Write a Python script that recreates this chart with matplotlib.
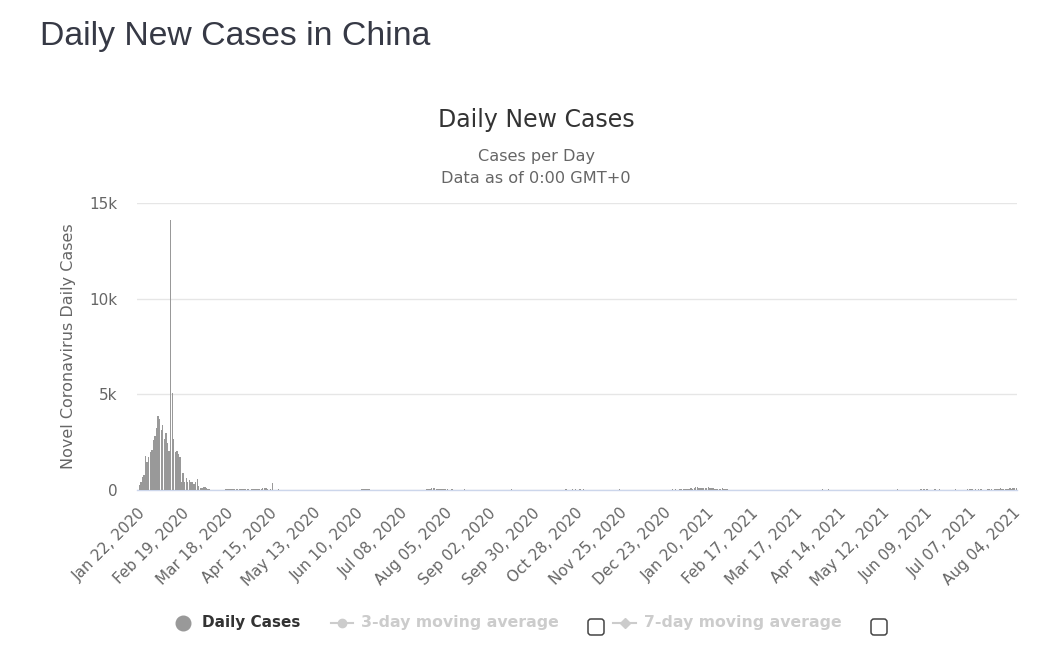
import matplotlib
matplotlib.use("Agg")
import matplotlib.pyplot as plt
import matplotlib.dates as mdates
from matplotlib.lines import Line2D
from matplotlib.patches import FancyBboxPatch
import pandas as pd

# ---------------- data (daily new cases, China) ----------------
start_date = "2020-01-22"
cases_2020_01 = [0, 259, 444, 688, 769, 1771, 1459, 1737, 1982, 2102]
cases_2020_02 = [2590, 2829, 3235, 3887, 3694, 3143, 3385, 2652, 2973, 2467,
                 2015, 14108, 5090, 2641, 2009, 2048, 1886, 1749, 394, 889,
                 397, 648, 409, 508, 406, 433, 327, 427, 573]
cases_2020_03 = [202, 125, 119, 139, 143, 99, 44, 40, 19, 24,
                 15, 8, 11, 20, 16, 21, 13, 34, 39, 41,
                 46, 39, 78, 47, 67, 55, 54, 45, 31, 48, 36]
cases_2020_04 = [35, 31, 19, 30, 39, 32, 62, 63, 42, 46,
                 99, 108, 89, 46, 26, 27, 352, 16, 12, 11,
                 30, 10, 6, 11, 12, 3, 6, 22, 4, 12]
cases_2020_05 = [1, 2, 2, 1, 2, 2, 2, 1, 1, 1,
                 17, 1, 3, 4, 5, 7, 5, 6, 2, 5,
                 4, 0, 3, 11, 7, 7, 1, 2, 1, 0, 3]
cases_2020_06 = [2, 2, 5, 3, 5, 4, 6, 7, 3, 11,
                 8, 11, 57, 49, 40, 44, 28, 32, 26, 25,
                 18, 12, 13, 19, 11, 17, 21, 12, 19, 4]
cases_2020_07 = [3, 3, 5, 8, 7, 5, 8, 11, 7, 7,
                 7, 8, 8, 3, 11, 22, 18, 22, 16, 14,
                 14, 22, 22, 21, 46, 61, 68, 101, 105, 127, 45]
cases_2020_08 = [49, 43, 36, 27, 37, 45, 32, 23, 23, 44,
                 25, 22, 19, 22, 24, 22, 16, 28, 22, 11,
                 20, 22, 22, 21, 15, 16, 9, 9, 9, 16, 12]
cases_2020_09 = [5, 10, 11, 10, 7, 10, 10, 9, 6, 7,
                 8, 10, 10, 10, 12, 7, 32, 13, 14, 12,
                 17, 10, 12, 7, 18, 17, 14, 10, 12, 11]
cases_2020_10 = [19, 11, 18, 20, 17, 11, 10, 11, 14, 11,
                 21, 13, 13, 13, 13, 13, 13, 24, 20, 13,
                 12, 28, 18, 20, 20, 42, 22, 42, 23, 25, 32]
cases_2020_11 = [24, 33, 22, 22, 26, 22, 21, 20, 26, 23,
                 17, 15, 8, 11, 22, 15, 10, 16, 16, 16,
                 11, 19, 17, 22, 29, 22, 16, 18, 15, 15]
cases_2020_12 = [14, 21, 24, 19, 16, 17, 16, 13, 18, 24,
                 19, 20, 20, 17, 23, 13, 12, 23, 20, 18,
                 24, 26, 21, 22, 22, 15, 15, 22, 42, 24, 35]
cases_2021_01 = [24, 24, 35, 33, 64, 63, 53, 37, 57, 103,
                 55, 115, 138, 144, 130, 109, 118, 118, 103, 88,
                 144, 103, 107, 124, 75, 54, 55, 75, 53, 92, 33]
cases_2021_02 = [42, 30, 18, 22, 12, 14, 16, 14, 17, 14,
                 7, 14, 11, 8, 10, 7, 11, 7, 8, 6,
                 8, 6, 6, 10, 11, 10, 13, 9]
cases_2021_03 = [6, 10, 11, 11, 13, 10, 17, 6, 9, 9,
                 15, 10, 7, 11, 7, 9, 7, 8, 10, 12,
                 9, 4, 14, 11, 8, 5, 12, 9, 7, 18, 14]
cases_2021_04 = [9, 20, 15, 32, 25, 16, 12, 28, 17, 15,
                 15, 15, 11, 11, 20, 17, 23, 18, 18, 16,
                 12, 12, 20, 12, 14, 10, 7, 17, 14, 20]
cases_2021_05 = [11, 11, 8, 10, 8, 13, 12, 9, 9, 21,
                 14, 7, 20, 21, 17, 12, 10, 15, 10, 14,
                 17, 31, 13, 18, 12, 11, 16, 26, 19, 23, 22]
cases_2021_06 = [15, 21, 21, 25, 13, 27, 15, 32, 26, 28,
                 18, 24, 13, 20, 36, 13, 24, 30, 20, 20,
                 23, 21, 14, 21, 16, 19, 17, 29, 19, 21]
cases_2021_07 = [17, 23, 24, 14, 22, 38, 39, 41, 55, 24,
                 32, 26, 27, 51, 31, 19, 14, 22, 31, 65,
                 41, 21, 44, 56, 74, 76, 86, 49, 55, 64, 75]
cases_2021_08 = [61, 98, 71, 124, 85, 80]

months = [
    ("2020-01-22", cases_2020_01), ("2020-02-01", cases_2020_02),
    ("2020-03-01", cases_2020_03), ("2020-04-01", cases_2020_04),
    ("2020-05-01", cases_2020_05), ("2020-06-01", cases_2020_06),
    ("2020-07-01", cases_2020_07), ("2020-08-01", cases_2020_08),
    ("2020-09-01", cases_2020_09), ("2020-10-01", cases_2020_10),
    ("2020-11-01", cases_2020_11), ("2020-12-01", cases_2020_12),
    ("2021-01-01", cases_2021_01), ("2021-02-01", cases_2021_02),
    ("2021-03-01", cases_2021_03), ("2021-04-01", cases_2021_04),
    ("2021-05-01", cases_2021_05), ("2021-06-01", cases_2021_06),
    ("2021-07-01", cases_2021_07), ("2021-08-01", cases_2021_08),
]

y_ticks = [0, 5000, 10000, 15000]
y_tick_labels = ["0", "5k", "10k", "15k"]

page_title = "Daily New Cases in China"
chart_title = "Daily New Cases"
subtitle_1 = "Cases per Day"
subtitle_2 = "Data as of 0:00 GMT+0"
y_label = "Novel Coronavirus Daily Cases"
legend_labels = ["Daily Cases", "3-day moving average", "7-day moving average"]

# ---------------- build series ----------------
dates = []
values = []
for m_start, vals in months:
    dates.extend(pd.date_range(m_start, periods=len(vals), freq="D"))
    values.extend(vals)
dates = pd.DatetimeIndex(dates)

W, H = 1054, 652
fig = plt.figure(figsize=(W / 100, H / 100), dpi=100)
fig.patch.set_facecolor("white")


def fx(x):
    return x / W


def fy(y):
    return 1 - y / H


ax = fig.add_axes([fx(137), fy(490), 880 / W, 287 / H])
ax.set_facecolor("white")

ax.bar(dates, values, width=0.85, color="#999999", linewidth=0, zorder=3)

half = pd.Timedelta(hours=12)
ax.set_xlim(dates[0] - half, dates[-1] + half)
ax.set_ylim(0, 15000)

for s in ["top", "right", "left"]:
    ax.spines[s].set_visible(False)
ax.spines["bottom"].set_color("#ccd6eb")
ax.spines["bottom"].set_linewidth(1)
ax.spines["bottom"].set_zorder(2)

ax.set_yticks(y_ticks)
ax.set_yticklabels(y_tick_labels)
ax.yaxis.grid(True, color="#e6e6e6", linewidth=1, zorder=0)
ax.set_axisbelow(True)
ax.tick_params(axis="y", length=0, pad=14, labelsize=11, labelcolor="#666666")

tick_dates = pd.date_range(start_date, "2021-08-04", freq="28D")
ax.set_xticks(tick_dates)
ax.xaxis.set_major_formatter(mdates.DateFormatter("%b %d, %Y"))
ax.tick_params(axis="x", length=0, pad=11, labelsize=11, labelcolor="#666666")
for lbl in ax.get_xticklabels():
    lbl.set_rotation(45)
    lbl.set_ha("right")
    lbl.set_va("top")
    lbl.set_rotation_mode("anchor")

# ---------------- texts ----------------
fig.text(fx(40), fy(45), page_title, fontsize=24.3, color="#363945",
         family=["Liberation Sans", "DejaVu Sans"], ha="left", va="baseline")
fig.text(fx(536), fy(127), chart_title, fontsize=17, color="#333333",
         ha="center", va="baseline")
fig.text(fx(536), fy(161), subtitle_1, fontsize=11.6, color="#666666",
         ha="center", va="baseline")
fig.text(fx(536), fy(183), subtitle_2, fontsize=11.6, color="#666666",
         ha="center", va="baseline")
fig.text(fx(68), fy(346), y_label, fontsize=11.5, color="#666666",
         rotation=90, ha="center", va="center")

# ---------------- legend ----------------
ly = fy(623)
fig.add_artist(Line2D([fx(183)], [ly], marker="o", markersize=10.5,
                      color="#999999", linestyle="none", transform=fig.transFigure))
fig.text(fx(202), ly, legend_labels[0], fontsize=11, fontweight="bold",
         color="#333333", ha="left", va="center")

fig.add_artist(Line2D([fx(331), fx(353)], [ly, ly], color="#cccccc", lw=1.5,
                      transform=fig.transFigure))
fig.add_artist(Line2D([fx(342)], [ly], marker="o", markersize=6, color="#cccccc",
                      linestyle="none", transform=fig.transFigure))
fig.text(fx(361), ly, legend_labels[1], fontsize=11.3, fontweight="bold",
         color="#cccccc", ha="left", va="center")

fig.add_artist(Line2D([fx(613), fx(636)], [ly, ly], color="#cccccc", lw=1.5,
                      transform=fig.transFigure))
fig.add_artist(Line2D([fx(625)], [ly], marker="D", markersize=5.5, color="#cccccc",
                      linestyle="none", transform=fig.transFigure))
fig.text(fx(644), ly, legend_labels[2], fontsize=11.3, fontweight="bold",
         color="#cccccc", ha="left", va="center")

for cx in (596, 879):
    box = FancyBboxPatch(((cx - 8) / 100, (H - 635) / 100), 0.16, 0.16,
                         boxstyle="round,pad=0,rounding_size=0.03",
                         facecolor="white", edgecolor="#444444", linewidth=1.1,
                         transform=fig.dpi_scale_trans)
    fig.add_artist(box)

fig.savefig("out.png", dpi=100, facecolor="white")
